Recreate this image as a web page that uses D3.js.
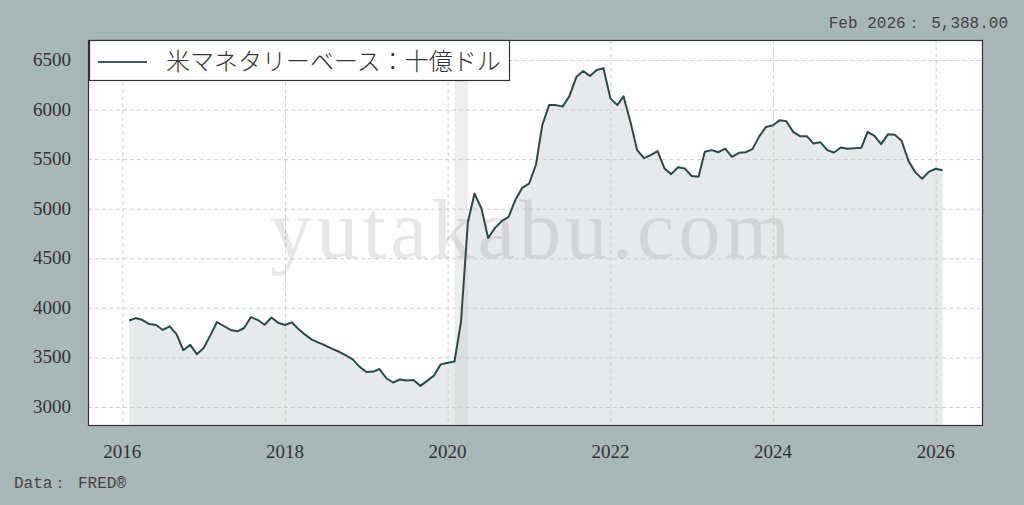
<!DOCTYPE html>
<html>
<head>
<meta charset="utf-8">
<script src="https://cdn.jsdelivr.net/npm/d3@7"></script>
<style>
  html, body { margin: 0; padding: 0; background: #a8b8b6; }
  svg { display: block; }
</style>
</head>
<body>
<div id="chart"></div>
<script>
// monthly values, Feb 2016 .. Feb 2026 (billions of dollars)
const startMonth = [2016, 1]   // year, month index (Feb)
const baseValues = [
  3873, 3897, 3877, 3837, 3827, 3777, 3813, 3733, 3573, 3627, 3533,          // 2016 Feb-Dec
  3597, 3730, 3857, 3817, 3777, 3763, 3797, 3907, 3877, 3830, 3903, 3850,    // 2017
  3827, 3853, 3790, 3730, 3680, 3650, 3620, 3587, 3557, 3520, 3480, 3407,    // 2018
  3353, 3357, 3383, 3290, 3247, 3277, 3267, 3273, 3213, 3263, 3317, 3430,    // 2019
  3447, 3460, 3857, 4867, 5153, 5002, 4705, 4807, 4877, 4918, 5093, 5210,    // 2020
  5254, 5446, 5843, 6045, 6045, 6032, 6136, 6328, 6389, 6338, 6399, 6416,    // 2021
  6113, 6045, 6133, 5877, 5591, 5510, 5540, 5581, 5406, 5349, 5419, 5406,    // 2022
  5330, 5322, 5574, 5591, 5570, 5607, 5523, 5564, 5570, 5601, 5732, 5825,    // 2023
  5842, 5893, 5883, 5775, 5732, 5732, 5658, 5671, 5591, 5567, 5617, 5604,    // 2024
  5611, 5614, 5775, 5735, 5651, 5752, 5745, 5685, 5480, 5369, 5302, 5372,    // 2025
  5403, 5388                                                                 // 2026 Jan-Feb
]
const yTicks = [3000, 3500, 4000, 4500, 5000, 5500, 6000, 6500]
const xTickYears = [2016, 2018, 2020, 2022, 2024, 2026]
const recession = [new Date(2020, 1, 1), new Date(2020, 3, 1)]
const legendLabel = "米マネタリーベース：十億ドル"
const latestLabel = "Feb 2026： 5,388.00"
const sourceLabel = "Data： FRED®"
const watermark = "yutakabu.com"

const data = baseValues.map((v, i) => ({ date: new Date(startMonth[0], startMonth[1] + i, 1), value: v }))

var width = 1024, height = 505
var plot = { left: 88, right: 983, top: 40, bottom: 426 }

const lineColor = "#2b4b49"
const fillColor = "#e6eaeb"

var svg = d3.select("#chart").append("svg")
    .attr("width", width)
    .attr("height", height)

svg.append("rect").attr("width", width).attr("height", height).attr("fill", "#a8b8b6")

// scales: 2016 and 2026 gridlines land at 122 / 935.7
var x = d3.scaleTime()
    .domain([new Date(2016, 0, 1), new Date(2026, 0, 1)])
    .range([122.3, 935.7])

var y = d3.scaleLinear()
    .domain([3000, 6500])
    .range([407, 60])

// plot background
svg.append("rect")
    .attr("x", plot.left).attr("y", plot.top)
    .attr("width", plot.right - plot.left).attr("height", plot.bottom - plot.top)
    .attr("fill", "#fff")

var clip = svg.append("clipPath").attr("id", "clip")
clip.append("rect")
    .attr("x", plot.left).attr("y", plot.top)
    .attr("width", plot.right - plot.left).attr("height", plot.bottom - plot.top)

var g = svg.append("g").attr("clip-path", "url(#clip)")

// area under the line
var area = d3.area()
    .x(d => x(d.date))
    .y0(plot.bottom)
    .y1(d => y(d.value))

g.append("path")
    .datum(data)
    .attr("fill", fillColor)
    .attr("d", area)

// recession band
g.append("rect")
    .attr("x", x(recession[0]))
    .attr("y", plot.top)
    .attr("width", x(recession[1]) - x(recession[0]))
    .attr("height", plot.bottom - plot.top)
    .attr("fill", "#c8c8c8")
    .attr("opacity", 0.3)

// grid
g.selectAll(".hgrid").data(yTicks).enter().append("line")
    .attr("x1", plot.left).attr("x2", plot.right)
    .attr("y1", d => y(d) + 0.5).attr("y2", d => y(d) + 0.5)
    .attr("stroke", "#cfcfcf").attr("stroke-width", 1)
    .attr("stroke-dasharray", "4,3")

g.selectAll(".vgrid").data(xTickYears).enter().append("line")
    .attr("x1", d => x(new Date(d, 0, 1)) + 0.5).attr("x2", d => x(new Date(d, 0, 1)) + 0.5)
    .attr("y1", plot.top).attr("y2", plot.bottom)
    .attr("stroke", "#cfcfcf").attr("stroke-width", 1)
    .attr("stroke-dasharray", "4,3")

// watermark
g.append("text")
    .attr("x", 530).attr("y", 258)
    .attr("text-anchor", "middle")
    .attr("font-family", "'Liberation Serif', serif")
    .attr("font-size", 84)
    .attr("fill", "#808080")
    .attr("opacity", 0.18)
    .attr("textLength", 520)
    .attr("lengthAdjust", "spacing")
    .text(watermark)

// line
var line = d3.line()
    .x(d => x(d.date))
    .y(d => y(d.value))

g.append("path")
    .datum(data)
    .attr("fill", "none")
    .attr("stroke", lineColor)
    .attr("stroke-width", 2)
    .attr("stroke-linejoin", "round")
    .attr("d", line)

// frame
svg.append("rect")
    .attr("x", plot.left + 0.5).attr("y", plot.top + 0.5)
    .attr("width", plot.right - plot.left - 1).attr("height", plot.bottom - plot.top - 1)
    .attr("fill", "none")
    .attr("stroke", "#333").attr("stroke-width", 1.2)

// y axis labels
svg.append("g").selectAll("text").data(yTicks).enter().append("text")
    .attr("x", 71).attr("y", d => y(d) + 6)
    .attr("text-anchor", "end")
    .attr("font-family", "'Liberation Serif', serif")
    .attr("font-size", 19)
    .attr("fill", "#333")
    .text(d => d)

// x axis labels
svg.append("g").selectAll("text").data(xTickYears).enter().append("text")
    .attr("x", d => x(new Date(d, 0, 1)))
    .attr("y", 458)
    .attr("text-anchor", "middle")
    .attr("font-family", "'Liberation Serif', serif")
    .attr("font-size", 19)
    .attr("fill", "#333")
    .text(d => d)

// legend
var legend = svg.append("g")
legend.append("rect")
    .attr("x", 89.5).attr("y", 40.5)
    .attr("width", 420).attr("height", 40)
    .attr("fill", "#fff")
    .attr("stroke", "#333").attr("stroke-width", 1.2)
legend.append("line")
    .attr("x1", 98).attr("x2", 147)
    .attr("y1", 62).attr("y2", 62)
    .attr("stroke", "#3c5c5a").attr("stroke-width", 2)
legend.append("text")
    .attr("x", 166).attr("y", 70)
    .attr("font-family", "'Noto Sans CJK JP', sans-serif")
    .attr("font-weight", 300)
    .attr("font-size", 24)
    .attr("fill", "#333")
    .text(legendLabel)

// corner texts
svg.append("text")
    .attr("x", 1008).attr("y", 28)
    .attr("text-anchor", "end")
    .attr("font-family", "'Liberation Mono', monospace")
    .attr("font-size", 16)
    .attr("fill", "#444")
    .text(latestLabel)

svg.append("text")
    .attr("x", 14).attr("y", 488)
    .attr("font-family", "'Liberation Mono', monospace")
    .attr("font-size", 16)
    .attr("fill", "#444")
    .text(sourceLabel)
</script>
</body>
</html>
